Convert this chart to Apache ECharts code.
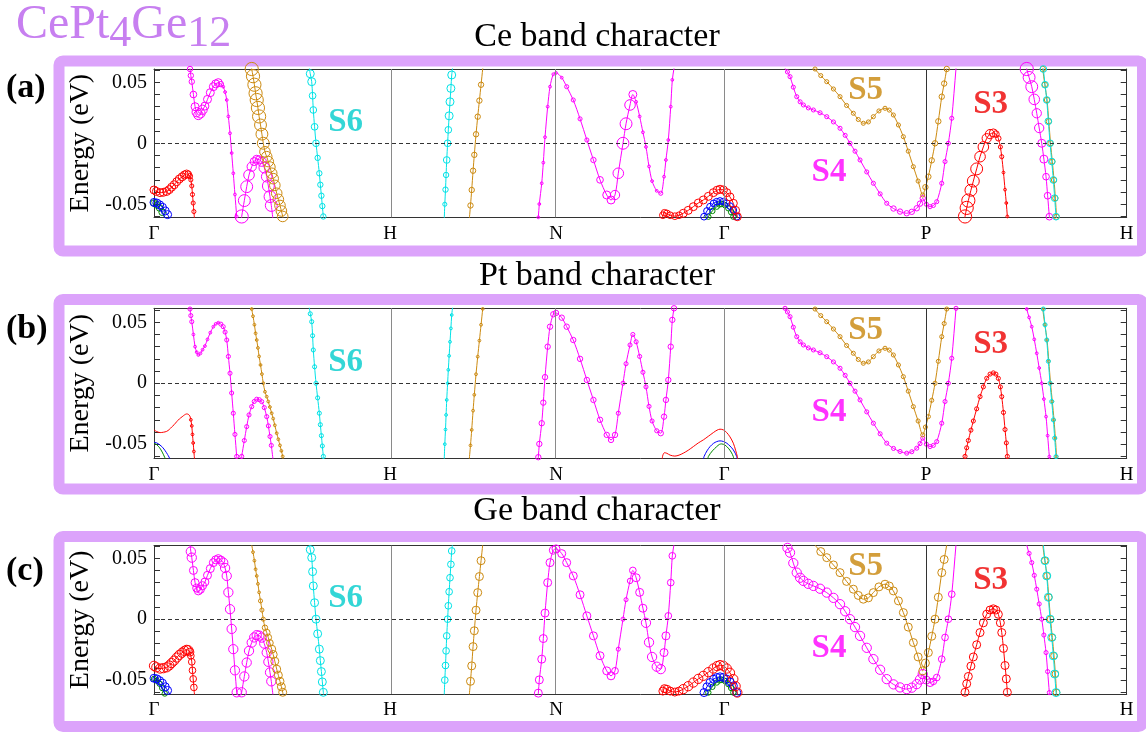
<!DOCTYPE html>
<html><head><meta charset="utf-8">
<script src="https://cdn.jsdelivr.net/npm/echarts@6/dist/echarts.min.js"></script>
<style>html,body{margin:0;padding:0;background:#fff}#c{width:1146px;height:732px}</style>
</head><body><div id="c"></div>
<script>
// ---------------- DATA ----------------
// k-path positions (units of 2pi/a) and labels
const kTicks = [0, 1.006, 1.7135, 2.431, 3.291, 4.146];
const kLabels = ['Γ', 'H', 'N', 'Γ', 'P', 'H'];
const energyLabels = [-0.05, 0, 0.05];
const energyTicks = [-0.06, -0.05, -0.04, -0.03, -0.02, -0.01, 0, 0.01, 0.02, 0.03, 0.04, 0.05, 0.06];
const panelTitles = ['Ce band character', 'Pt band character', 'Ge band character'];
const panelTags = ['(a)', '(b)', '(c)'];
const bandLabels = [['S6', 0.817, 0.017, 'cyan'], ['S5', 3.033, 0.0435, 'gold'], ['S4', 2.877, -0.024, 'magenta'], ['S3', 3.566, 0.032, 'red']];

// bands: [k, E (eV), Ce weight, Pt weight, Ge weight]
const red1 = [[0,-0.0383,5,0,6],[0.01,-0.0395,5,0,6],[0.026,-0.0405,5,0,6],[0.04,-0.0402,5,0,6],[0.054,-0.0395,5,0,6],[0.065,-0.038,5,0,6],[0.075,-0.036,5,0,6],[0.086,-0.034,5,0,6],[0.097,-0.0315,5,0,6],[0.108,-0.0293,5,0,6],[0.12,-0.0275,5,0,6],[0.13,-0.026,5,0,6],[0.139,-0.0252,5,0,6],[0.146,-0.0255,4,0,6],[0.153,-0.027,3,0,5],[0.157,-0.03,2,1,4],[0.161,-0.035,2,1,4],[0.164,-0.042,2,1,4],[0.167,-0.049,2,1,4],[0.17,-0.056,2,1,4],[0.173,-0.063,2,1,4]];
const blue1 = [[0,-0.0485,5,0,5],[0.012,-0.049,5,0,5],[0.024,-0.0505,5,0,5],[0.036,-0.0525,5,0,5],[0.048,-0.0555,5,0,5],[0.058,-0.0585,5,0,5],[0.068,-0.062,5,0,5]];
const green1 = [[0,-0.049,4,0,3],[0.012,-0.0505,4,0,3],[0.024,-0.053,4,0,3],[0.035,-0.0565,4,0,3],[0.046,-0.061,4,0,3],[0.049,-0.063,4,0,3]];
const magenta1 = [[0.15,0.064,3,2,6],[0.1535,0.0609,3,2,6],[0.157,0.0555,3,2,6],[0.161,0.0505,3,2,6],[0.168,0.04,4,1,5],[0.175,0.03,5,1,5],[0.182,0.0255,6,1,5],[0.189,0.0232,6,1,5],[0.198,0.0245,6,1,5],[0.207,0.0275,6,1,5],[0.217,0.0305,5,1,5],[0.228,0.036,5,1,5],[0.24,0.0415,5,1,5],[0.253,0.0464,5,1,5],[0.263,0.0487,5,1,5],[0.274,0.0497,5,1,5],[0.285,0.0485,3,2,5],[0.295,0.0464,1,2,6],[0.303,0.042,1,2,6],[0.31,0.0355,1,2,6],[0.317,0.022,1,2,6],[0.324,0.0082,1,2,6],[0.331,-0.008,1,2,6],[0.338,-0.0246,1,2,6],[0.345,-0.042,1,2,6],[0.3525,-0.06,1,2,6],[0.354,-0.064,1,2,6]];
const magenta2 = [[0.372,-0.063,9,2,6],[0.3738,-0.06,9,2,6],[0.385,-0.047,8,2,6],[0.3951,-0.0356,8,2,6],[0.405,-0.026,7,2,6],[0.4165,-0.0192,6,2,6],[0.427,-0.015,5,2,6],[0.4378,-0.0131,5,2,6],[0.449,-0.0135,5,2,6],[0.4591,-0.0151,6,2,6],[0.47,-0.02,7,2,6],[0.4804,-0.0274,7,2,6],[0.4875,-0.035,8,2,6],[0.4945,-0.0437,8,2,6],[0.5,-0.051,8,2,6],[0.5075,-0.063,9,2,6]];
const gold1 = [[0.414,0.064,9,1,1],[0.4165,0.0609,9,1,1],[0.422,0.055,9,1,1],[0.428,0.048,9,1,1],[0.433,0.041,9,1,1],[0.4378,0.0355,9,1,1],[0.443,0.029,9,1,1],[0.448,0.022,9,1,1],[0.454,0.015,8,1,2],[0.46,0.0075,8,1,2],[0.4659,0,8,1,2],[0.473,-0.007,7,1,3],[0.4804,-0.011,7,1,4],[0.487,-0.015,7,1,4],[0.494,-0.0195,7,1,4],[0.5017,-0.0246,7,1,5],[0.508,-0.029,7,1,5],[0.515,-0.0345,7,1,5],[0.523,-0.041,7,1,5],[0.53,-0.046,7,1,5],[0.537,-0.051,7,1,5],[0.543,-0.0555,7,1,5],[0.5486,-0.06,7,1,5],[0.551,-0.063,7,1,5]];
const cyan1 = [[0.661,0.063,5,2,5],[0.666,0.057,5,2,5],[0.6722,0.0505,5,2,5],[0.676,0.039,4,2,5],[0.679,0.0273,4,2,5],[0.6845,0.0135,4,2,5],[0.6905,0,4,2,5],[0.6975,-0.012,3,2,5],[0.7047,-0.0246,3,2,5],[0.709,-0.034,3,2,5],[0.7135,-0.043,3,2,5],[0.7175,-0.0515,3,2,5],[0.7217,-0.06,3,2,5],[0.723,-0.063,3,2,5]];
const cyan2 = [[1.237,-0.063,2,1,4],[1.2395,-0.05,2,1,4],[1.2425,-0.038,3,1,4],[1.245,-0.026,3,1,4],[1.2477,-0.0137,4,1,4],[1.2515,0,4,1,4],[1.2545,0.011,4,1,4],[1.258,0.0225,5,1,4],[1.2617,0.034,5,1,4],[1.2655,0.045,5,1,4],[1.269,0.056,5,1,4],[1.274,0.064,5,1,4]];
const gold2 = [[1.3435,-0.063,3,1,5],[1.349,-0.051,3,1,5],[1.3542,-0.0383,3,1,5],[1.36,-0.0225,3,1,5],[1.3653,-0.0095,3,1,5],[1.3726,0.0074,3,1,5],[1.3798,0.0218,3,1,5],[1.387,0.035,3,1,5],[1.394,0.048,3,1,5],[1.4011,0.061,3,1,5],[1.402,0.063,3,1,5]];
const magenta3 = [[1.636,-0.064,1,3,5],[1.6381,-0.0607,1,3,5],[1.6424,-0.0498,1,3,5],[1.6526,-0.0328,1,3,5],[1.6594,-0.0159,1,3,5],[1.6667,0.005,1,3,5],[1.678,0.03,1,3,5],[1.688,0.0464,1,3,5],[1.702,0.0566,1,3,5],[1.7135,0.0577,1,3,5],[1.7379,0.0538,1,3,5],[1.759,0.0464,2,3,5],[1.787,0.0355,2,3,5],[1.816,0.02,2,3,5],[1.845,0.0027,2,3,5],[1.873,-0.0137,3,3,5],[1.9011,-0.03,4,3,5],[1.9297,-0.0424,5,3,5],[1.948,-0.0465,5,3,5],[1.965,-0.0424,6,3,4],[1.979,-0.0246,7,2,2],[1.999,0,8,2,2],[2.012,0.016,8,2,2],[2.029,0.0314,7,2,3],[2.041,0.04,5,2,4],[2.055,0.034,1,2,5],[2.07,0.022,1,2,5],[2.084,0.009,1,2,5],[2.097,-0.003,1,2,6],[2.11,-0.019,1,2,6],[2.123,-0.031,1,2,6],[2.1428,-0.039,1,2,6],[2.16,-0.041,2,3,6],[2.174,-0.0274,1,3,5],[2.182,-0.0137,1,3,5],[2.1922,0.0027,1,3,4],[2.2025,0.03,1,3,4],[2.2093,0.052,1,3,4],[2.2165,0.0615,1,3,4],[2.218,0.064,1,3,4]];
const red2 = [[2.166,-0.0625,4,0,5],[2.169,-0.059,4,0,5],[2.176,-0.057,4,0,5],[2.186,-0.0575,4,0,5],[2.2,-0.059,4,0,5],[2.22,-0.0598,4,0,5],[2.238,-0.059,4,0,5],[2.256,-0.0574,5,0,6],[2.277,-0.055,5,0,6],[2.2988,-0.052,5,0,6],[2.32,-0.049,5,0,6],[2.3414,-0.0465,5,0,6],[2.363,-0.0435,5,0,6],[2.3841,-0.0405,5,0,6],[2.4,-0.0385,5,0,6],[2.4126,-0.0377,5,0,6],[2.427,-0.0383,5,0,6],[2.4412,-0.0405,5,0,6],[2.455,-0.044,5,0,6],[2.4693,-0.0492,5,0,6],[2.479,-0.055,5,0,6],[2.4864,-0.0602,5,0,6],[2.488,-0.063,5,0,6]];
const blue2 = [[2.342,-0.0625,4,0,5],[2.3444,-0.0602,4,0,5],[2.357,-0.0555,4,0,5],[2.37,-0.052,4,0,5],[2.385,-0.0493,4,0,5],[2.3986,-0.0479,4,0,5],[2.4126,-0.0473,4,0,5],[2.427,-0.0478,4,0,5],[2.4412,-0.0492,4,0,5],[2.455,-0.0515,4,0,5],[2.4693,-0.0547,4,0,5],[2.4838,-0.0602,4,0,5],[2.485,-0.0625,4,0,5]];
const green2 = [[2.361,-0.0625,3,0,3],[2.3628,-0.0602,3,0,3],[2.38,-0.0555,3,0,3],[2.3986,-0.052,3,0,3],[2.41,-0.0502,3,0,3],[2.4198,-0.0498,3,0,3],[2.434,-0.0508,3,0,3],[2.448,-0.0533,3,0,3],[2.46,-0.0565,3,0,3],[2.4693,-0.0602,3,0,3],[2.471,-0.0625,3,0,3]];
const bandS5 = [[2.814,0.064,2,2,5],[2.8176,0.0609,2,2,5],[2.842,0.0555,2,2,5],[2.8675,0.0505,2,2,5],[2.896,0.0445,2,2,5],[2.9241,0.0382,2,2,5],[2.952,0.031,2,2,5],[2.9809,0.0246,2,2,5],[3.002,0.0195,2,2,5],[3.0234,0.0164,2,2,5],[3.045,0.0175,2,2,5],[3.0661,0.0218,2,2,5],[3.09,0.0265,2,2,5],[3.1159,0.0287,2,2,5],[3.134,0.0272,2,2,5],[3.1514,0.0232,2,2,5],[3.173,0.015,2,2,5],[3.194,0.0054,2,2,5],[3.215,-0.0065,2,2,5],[3.2366,-0.0192,2,2,5],[3.257,-0.031,2,2,5],[3.2767,-0.0424,2,2,5],[3.288,-0.036,3,2,5],[3.3006,-0.0274,3,2,5],[3.315,-0.014,3,2,5],[3.3291,0,3,2,5],[3.343,0.018,3,2,5],[3.3577,0.0382,3,2,5],[3.368,0.049,3,2,5],[3.3789,0.0609,3,2,5],[3.381,0.064,3,2,5]];
const bandS4 = [[2.687,0.064,2,2,6],[2.6897,0.0615,2,2,6],[2.7,0.0585,2,2,6],[2.711,0.0546,2,2,6],[2.725,0.046,2,2,6],[2.7396,0.0382,2,2,6],[2.754,0.034,2,2,6],[2.768,0.0314,2,2,6],[2.789,0.029,2,2,6],[2.8106,0.0273,2,2,6],[2.839,0.025,2,2,6],[2.8675,0.0218,2,2,6],[2.896,0.0175,2,2,6],[2.9241,0.0123,2,2,6],[2.946,0.0065,2,2,6],[2.9668,0,2,2,6],[2.988,-0.0065,2,2,6],[3.0094,-0.0137,2,2,6],[3.038,-0.0235,2,2,6],[3.0663,-0.0328,2,2,6],[3.095,-0.0415,2,2,6],[3.1232,-0.0492,2,2,6],[3.152,-0.0535,3,2,6],[3.1799,-0.056,3,2,6],[3.2084,-0.0574,3,2,6],[3.23,-0.0562,3,2,6],[3.2511,-0.0533,3,2,6],[3.265,-0.0495,3,2,6],[3.2766,-0.0451,3,2,6],[3.292,-0.05,2,2,5],[3.3078,-0.052,2,2,5],[3.322,-0.051,2,2,4],[3.3363,-0.0479,2,2,4],[3.3576,-0.0328,2,2,4],[3.3717,-0.015,2,2,4],[3.3858,0,2,2,4],[3.4003,0.0205,2,2,4],[3.4186,0.0615,2,2,4],[3.42,0.064,2,2,4]];
const bandS3 = [[3.455,-0.063,9,2,5],[3.4569,-0.06,9,2,5],[3.464,-0.053,9,2,5],[3.471,-0.047,9,2,5],[3.482,-0.0385,8,2,5],[3.4923,-0.031,8,2,5],[3.5065,-0.021,8,2,5],[3.5209,-0.011,7,2,5],[3.535,-0.003,7,2,5],[3.5494,0.0041,6,2,5],[3.5635,0.0075,6,2,5],[3.5776,0.0085,5,2,5],[3.5885,0.0075,4,2,5],[3.5989,0.004,3,2,5],[3.6075,-0.003,2,2,5],[3.6134,-0.011,2,2,5],[3.6208,-0.024,1,2,5],[3.6274,-0.038,1,2,5],[3.6329,-0.049,1,2,5],[3.6373,-0.06,1,2,5],[3.639,-0.063,1,2,5]];
const magentaH = [[3.718,0.064,9,1,2],[3.7199,0.0609,9,1,2],[3.73,0.054,8,1,2],[3.7413,0.0464,8,1,2],[3.752,0.036,7,1,2],[3.7626,0.0246,6,1,2],[3.773,0.0125,6,1,2],[3.7839,0,5,1,2],[3.793,-0.013,5,1,2],[3.8022,-0.0274,4,1,2],[3.809,-0.043,4,1,2],[3.8163,-0.0602,4,1,2],[3.818,-0.064,4,1,2]];
const cyanH = [[3.7895,0.064,4,2,5],[3.7907,0.0609,4,2,5],[3.798,0.048,4,2,5],[3.8052,0.0355,4,2,5],[3.812,0.018,4,2,5],[3.8193,0,4,2,5],[3.8265,-0.015,4,2,5],[3.8334,-0.0301,4,2,5],[3.839,-0.045,4,2,5],[3.8448,-0.0602,4,2,5],[3.846,-0.064,4,2,5]];
const goldH = [[3.787,0.064,3,1,4],[3.7882,0.0609,3,1,4],[3.797,0.048,3,1,4],[3.8065,0.0355,3,1,4],[3.814,0.018,3,1,4],[3.8214,0,3,1,4],[3.829,-0.015,3,1,4],[3.8363,-0.0301,3,1,4],[3.842,-0.045,3,1,4],[3.847,-0.0602,3,1,4],[3.848,-0.064,3,1,4]];

// ---------------- STYLE / LAYOUT ----------------
const COLORS = { red: '#ff0000', blue: '#0000ff', green: '#008a00', magenta: '#ff00ff', gold: '#cc8a10', cyan: '#00e2e6' };
const LABEL_COLORS = { red: '#ee0000', magenta: '#ff00ff', gold: '#c8860a', cyan: '#00cccc' };
const bands = [
  [green1, 'green'], [blue1, 'blue'], [red1, 'red'], [magenta1, 'magenta'], [magenta2, 'magenta'], [gold1, 'gold'],
  [cyan1, 'cyan'], [cyan2, 'cyan'], [gold2, 'gold'], [magenta3, 'magenta'], [green2, 'green'], [blue2, 'blue'], [red2, 'red'],
  [bandS4, 'magenta'], [bandS5, 'gold'], [bandS3, 'red'], [magentaH, 'magenta'], [goldH, 'gold'], [cyanH, 'cyan']
];
const SERIF = 'Liberation Serif';
const FRAME = '#dca3fb';
const TITLE = '#c77ff0';
const grids = [
  { left: 154, right: 19.3, top: 69, height: 148.3 },
  { left: 154, right: 19.3, top: 308.3, height: 150 },
  { left: 154, right: 19.3, top: 545.7, height: 148.3 }
];
const yRanges = [[-0.0607, 0.0609], [-0.0616, 0.0615], [-0.0614, 0.0603]];
const frames = [[59, 61, 1083.5, 190], [59, 299.5, 1083.5, 189.5], [59, 536.5, 1083.5, 190]];
const titleY = [37, 276, 511];
const tagY = [88, 329, 571];

function kLabel(v) {
  let best = 0;
  kTicks.forEach((t, i) => { if (Math.abs(t - v) < Math.abs(kTicks[best] - v)) best = i; });
  return kLabels[best];
}
function eLabel(v) { return Math.abs(v) < 1e-9 ? '0' : v.toFixed(2); }
function symSize(w) { return w <= 0 ? 0 : 1.5 + 1.3 * w; }

const xAxis = [], yAxis = [], series = [];
grids.forEach((g, p) => {
  const [ymin, ymax] = yRanges[p];
  const ticks = energyTicks.filter(v => v >= ymin && v <= ymax);
  const axLine = { show: true, onZero: false, lineStyle: { color: '#333', width: 1 } };
  xAxis.push({ gridIndex: p, type: 'value', min: kTicks[0], max: kTicks[kTicks.length - 1], position: 'bottom',
    axisLine: axLine, axisTick: { show: false }, splitLine: { show: false },
    axisLabel: { show: true, customValues: kTicks, formatter: kLabel, color: '#000', fontFamily: SERIF, fontSize: 19, margin: 7 } });
  xAxis.push({ gridIndex: p, type: 'value', min: kTicks[0], max: kTicks[kTicks.length - 1], position: 'top',
    axisLine: axLine, axisTick: { show: false }, splitLine: { show: false }, axisLabel: { show: false } });
  yAxis.push({ gridIndex: p, type: 'value', min: ymin, max: ymax, position: 'left',
    axisLine: axLine, splitLine: { show: false },
    axisTick: { show: true, inside: true, length: 6, customValues: ticks, lineStyle: { color: '#333' } },
    axisLabel: { show: true, customValues: energyLabels, formatter: eLabel, color: '#000', fontFamily: SERIF, fontSize: 20, margin: 7 },
    name: 'Energy (eV)', nameLocation: 'middle', nameGap: 46,
    nameTextStyle: { fontFamily: SERIF, fontSize: 28, color: '#000' } });
  yAxis.push({ gridIndex: p, type: 'value', min: ymin, max: ymax, position: 'right',
    axisLine: axLine, splitLine: { show: false },
    axisTick: { show: true, inside: true, length: 6, customValues: ticks, lineStyle: { color: '#333' } },
    axisLabel: { show: false } });

  // reference lines: high-symmetry verticals and the Fermi level
  series.push({ type: 'line', xAxisIndex: 2 * p, yAxisIndex: 2 * p, data: [], z: 1, silent: true,
    markLine: { silent: true, symbol: ['none', 'none'], label: { show: false }, animation: false,
      data: kTicks.slice(1, kTicks.length - 1).map((v, i) => ({ xAxis: v,
        lineStyle: { color: kLabels[i + 1] === 'P' ? '#333' : '#8a8a8a', width: 1, type: 'solid' } }))
        .concat([{ yAxis: 0, lineStyle: { color: '#333', width: 1, type: [4, 3] } }]) } });

  bands.forEach(([pts, cname]) => {
    const c = COLORS[cname];
    series.push({ type: 'line', xAxisIndex: 2 * p, yAxisIndex: 2 * p, z: 3,
      data: pts.map(d => [d[0], d[1], d[2 + p]]),
      smooth: 0.3, clip: true, showAllSymbol: true, symbol: 'circle',
      symbolSize: v => symSize(v[2]),
      lineStyle: { color: c, width: 1 },
      itemStyle: { color: 'rgba(0,0,0,0)', borderColor: c, borderWidth: 1 },
      emphasis: { disabled: true }, silent: true, animation: false });
  });

  series.push({ type: 'scatter', xAxisIndex: 2 * p, yAxisIndex: 2 * p, z: 5, silent: true,
    symbolSize: 1, itemStyle: { color: 'rgba(0,0,0,0)' },
    data: bandLabels.map(b => ({ value: [b[1], b[2]],
      label: { show: true, position: 'inside', formatter: b[0], color: LABEL_COLORS[b[3]],
        fontFamily: SERIF, fontWeight: 'bold', fontSize: 33 } })) });
});

const graphic = [];
frames.forEach((f, p) => {
  graphic.push({ type: 'rect', silent: true, z: 0, shape: { x: f[0], y: f[1], width: f[2], height: f[3], r: 4 },
    style: { fill: 'none', stroke: FRAME, lineWidth: 11 } });
  graphic.push({ type: 'text', silent: true, x: 597, y: titleY[p],
    style: { text: panelTitles[p], font: '34px "Liberation Serif"', fill: '#000',
      align: 'center', textAlign: 'center', verticalAlign: 'middle', textVerticalAlign: 'middle' } });
  graphic.push({ type: 'text', silent: true, x: 6, y: tagY[p],
    style: { text: panelTags[p], font: 'bold 34px "Liberation Serif"', fill: '#000',
      align: 'left', textAlign: 'left', verticalAlign: 'middle', textVerticalAlign: 'middle' } });
});
graphic.push({ type: 'text', silent: true, x: 16, y: 25,
  style: { text: '{m|CePt}{s|4}{m|Ge}{s|12}', font: '48px "Liberation Serif"', fill: TITLE,
    align: 'left', textAlign: 'left', verticalAlign: 'middle', textVerticalAlign: 'middle',
    rich: { m: { font: '48px "Liberation Serif"', fontSize: 48, fontFamily: SERIF, fill: TITLE },
            s: { font: '44px "Liberation Serif"', fontSize: 44, fontFamily: SERIF, fill: TITLE, padding: [18, 0, 0, 0] } } } });

const chart = echarts.init(document.getElementById('c'), null, { renderer: 'canvas' });
chart.setOption({ animation: false, backgroundColor: '#fff', grid: grids, xAxis, yAxis, series, graphic });
</script></body></html>
